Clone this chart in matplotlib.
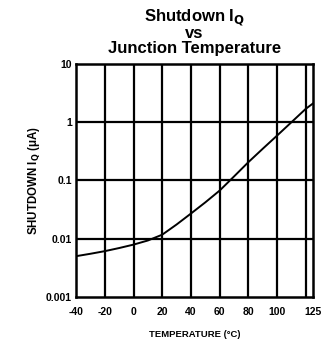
import matplotlib
matplotlib.use("Agg")
import matplotlib.pyplot as plt
from matplotlib.ticker import FixedLocator, NullLocator

plt.rcParams["font.family"] = ["Liberation Sans", "DejaVu Sans"]
plt.rcParams["font.weight"] = "bold"

# Shutdown quiescent current vs junction temperature
temp_c = [-40, -30, -20, -10, 0, 10, 20, 30, 40, 50, 60, 70, 80, 90, 100, 110, 120, 125]
iq_ua = [0.0050, 0.0055, 0.0061, 0.0069, 0.0079, 0.0093, 0.0117, 0.0175, 0.027,
         0.042, 0.067, 0.117, 0.206, 0.35, 0.59, 1.0, 1.7, 2.1]

xtick_vals = [-40, -20, 0, 20, 40, 60, 80, 100, 125]
xtick_labels = ["-40", "-20", "0", "20", "40", "60", "80", "100", "125"]
xgrid_vals = [-20, 0, 20, 40, 60, 80, 100, 120]
ytick_vals = [0.001, 0.01, 0.1, 1, 10]
ytick_labels = ["0.001", "0.01", "0.1", "1", "10"]

fig = plt.figure(figsize=(3.21, 3.46), dpi=100)
ax = fig.add_axes([0.237, 0.142, 0.738, 0.673])

ax.set_yscale("log")
ax.set_xlim(-40, 125)
ax.set_ylim(0.001, 10)

for xv in xgrid_vals:
    ax.axvline(xv, color="black", lw=1.6, zorder=1)
for yv in ytick_vals[1:-1]:
    ax.axhline(yv, color="black", lw=1.6, zorder=1)

ax.plot(temp_c, iq_ua, color="black", lw=1.4, zorder=2)

ax.xaxis.set_major_locator(FixedLocator(xtick_vals))
ax.set_xticklabels(xtick_labels)
ax.yaxis.set_major_locator(FixedLocator(ytick_vals))
ax.yaxis.set_minor_locator(NullLocator())
ax.set_yticklabels(ytick_labels)
ax.tick_params(length=0, labelsize=7.5)
ax.tick_params(axis="x", pad=7)
ax.tick_params(axis="y", pad=3)
for lbl in ax.get_xticklabels() + ax.get_yticklabels():
    lbl.set_fontweight("bold")

for s in ax.spines.values():
    s.set_linewidth(1.8)

ax.set_xlabel("TEMPERATURE (°C)", fontsize=6.8, fontweight="bold", labelpad=10)
ax.set_ylabel("SHUTDOWN I$_\\mathbf{Q}$ (μA)", fontsize=8.3, fontweight="bold", labelpad=3)
ax.set_title("Shutdown I$_\\mathbf{Q}$\nvs\nJunction Temperature", fontsize=12,
             fontweight="bold", linespacing=0.95, pad=8)

fig.savefig("out.png", dpi=100)
